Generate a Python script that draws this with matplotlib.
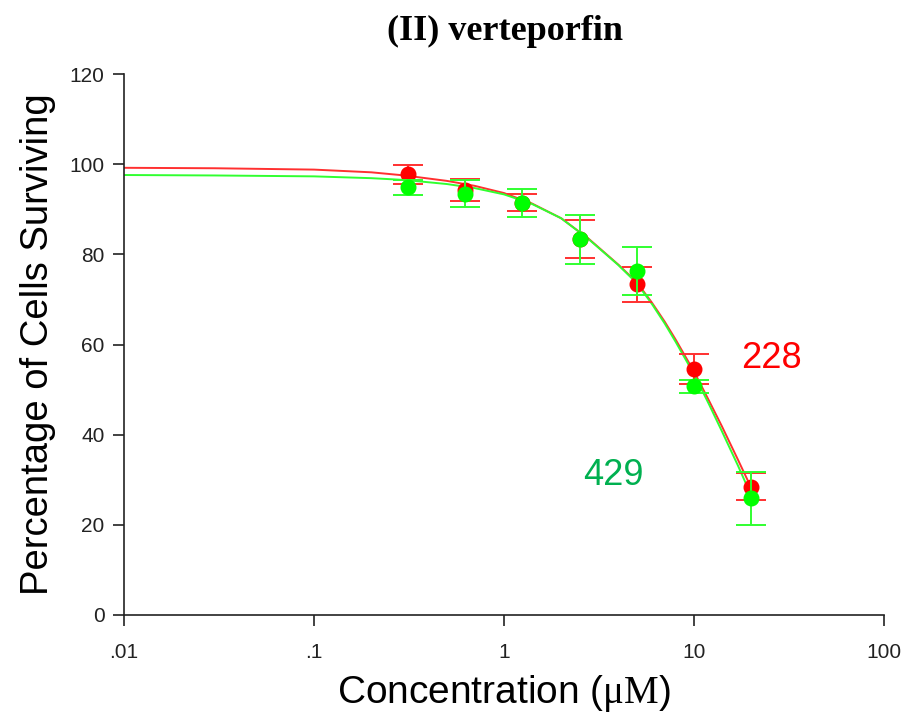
import matplotlib.pyplot as plt
import numpy as np

plt.rcParams['font.family'] = ['Liberation Sans', 'DejaVu Sans']
plt.rcParams['mathtext.fontset'] = 'custom'
plt.rcParams['mathtext.rm'] = 'Liberation Serif'

# concentrações (uM)
conc = [0.3125, 0.625, 1.25, 2.5, 5, 10, 20]

# linhagem 228 (vermelho)
y228 = [97.8, 94.3, 91.5, 83.4, 73.4, 54.6, 28.4]
err228 = [2.1, 2.5, 1.9, 4.2, 3.9, 3.3, 3.0]

# linhagem 429 (verde)
y429 = [94.9, 93.4, 91.4, 83.3, 76.3, 50.7, 25.9]
err429 = [1.7, 3.0, 3.2, 5.5, 5.3, 1.4, 5.9]

# curvas ajustadas
curva_x = [0.01, 0.03, 0.1, 0.2, 0.3, 0.5, 0.7, 1, 1.4, 2, 2.8, 4, 5, 6, 7, 8, 10, 12, 14, 17, 20]
curva_228 = [99.2, 99.1, 98.8, 98.2, 97.5, 96.3, 95.2, 93.6, 91.3, 88.0, 83.4, 77.7, 73.8, 69.3, 65.1, 61.1, 54.0, 47.5, 41.9, 34.5, 28.2]
curva_429 = [97.6, 97.5, 97.3, 96.9, 96.5, 95.6, 94.7, 93.3, 91.2, 88.0, 83.3, 77.6, 73.6, 69.0, 64.7, 60.6, 53.4, 46.7, 40.8, 33.2, 26.5]

fig = plt.figure(figsize=(9.07, 7.23), dpi=100)
ax = fig.add_axes([0.1367, 0.1494, 0.838, 0.7482])

ax.plot(curva_x, curva_228, color='#ff3030', lw=1.4, zorder=2)
ax.plot(curva_x, curva_429, color='#30ff30', lw=1.4, zorder=2)

ax.errorbar(conc, y228, yerr=err228, fmt='o', color='#ff0000', ecolor='#ff3030',
            ms=10.5, capsize=11, capthick=1.4, elinewidth=1.4, zorder=3)
ax.errorbar(conc, y429, yerr=err429, fmt='o', color='#00ff00', ecolor='#30ff30',
            ms=10.5, capsize=11, capthick=1.4, elinewidth=1.4, zorder=4)

ax.set_xscale('log')
ax.set_xlim(0.01, 100)
ax.set_ylim(0, 120)
ax.set_xticks([0.01, 0.1, 1, 10, 100])
ax.set_xticklabels(['.01', '.1', '1', '10', '100'])
ax.set_yticks(range(0, 121, 20))
ax.minorticks_off()
ax.tick_params(direction='out', length=8, width=1.2, labelsize=15, colors='#222222')
ax.tick_params(axis='x', pad=12)
ax.tick_params(axis='y', pad=6)

for s in ['top', 'right']:
    ax.spines[s].set_visible(False)
for s in ['left', 'bottom']:
    ax.spines[s].set_linewidth(1.2)
    ax.spines[s].set_color('#222222')

ax.set_ylabel('Percentage of Cells Surviving', fontsize=27.5, labelpad=10)
ax.set_xlabel(r'Concentration ($\mathrm{\mu M}$)', fontsize=28, labelpad=8)

ax.text(25.5, 57, '228', color='#ff0000', fontsize=26, ha='center', va='center')
ax.text(3.75, 31, '429', color='#00b050', fontsize=26, ha='center', va='center')

fig.text(0.557, 0.957, '(II) verteporfin', fontsize=26, fontweight='bold',
         family='Liberation Serif', ha='center', va='center')

fig.savefig('out.png', dpi=100)
